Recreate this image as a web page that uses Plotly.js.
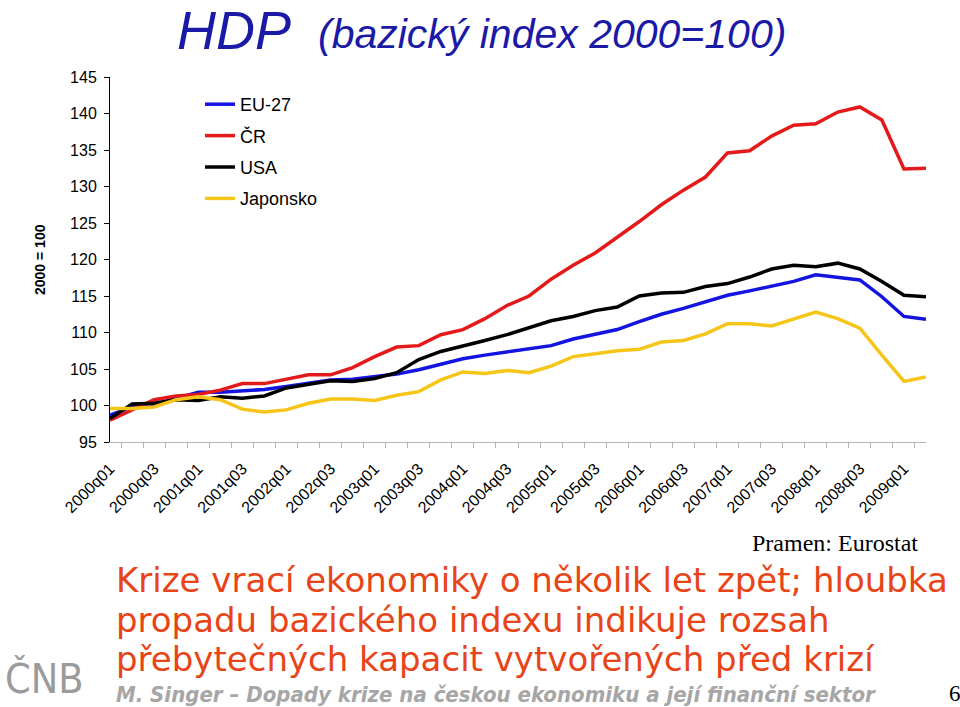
<!DOCTYPE html>
<html>
<head>
<meta charset="utf-8">
<script src="https://cdn.plot.ly/plotly-3.0.1.min.js"></script>
<style>
html,body{margin:0;padding:0;background:#fff;}
#chart{width:960px;height:707px;}
</style>
</head>
<body>
<div id="chart"></div>
<script>
const quarters = ["2000q01","2000q02","2000q03","2000q04","2001q01","2001q02","2001q03","2001q04",
  "2002q01","2002q02","2002q03","2002q04","2003q01","2003q02","2003q03","2003q04",
  "2004q01","2004q02","2004q03","2004q04","2005q01","2005q02","2005q03","2005q04",
  "2006q01","2006q02","2006q03","2006q04","2007q01","2007q02","2007q03","2007q04",
  "2008q01","2008q02","2008q03","2008q04","2009q01","2009q02"];
const tickLabels = ["2000q01","2000q03","2001q01","2001q03","2002q01","2002q03","2003q01","2003q03",
  "2004q01","2004q03","2005q01","2005q03","2006q01","2006q03","2007q01","2007q03","2008q01","2008q03","2009q01"];
const seriesNames = ["EU-27","ČR","USA","Japonsko"];
const eu27 = [98.7,99.8,100.1,101.0,101.8,101.8,102.0,102.2,102.6,103.1,103.5,103.6,103.9,104.3,104.9,105.7,106.4,106.9,107.3,107.7,108.2,109.1,109.8,110.4,111.5,112.5,113.3,114.2,115.1,115.7,116.4,117.0,117.9,117.6,117.2,114.9,112.2,111.8];
const cr = [98.0,99.4,100.8,101.3,101.5,102.1,103.0,103.0,103.6,104.2,104.2,105.2,106.7,108.0,108.2,109.7,110.4,111.9,113.7,115.0,117.3,119.2,120.9,123.0,125.2,127.5,129.5,131.3,134.6,134.9,136.9,138.4,138.6,140.2,140.9,139.1,132.4,132.5];
const usa = [98.2,100.2,100.3,100.8,100.7,101.2,101.0,101.3,102.4,102.9,103.4,103.3,103.7,104.5,106.3,107.4,108.1,108.9,109.7,110.6,111.6,112.2,113.0,113.5,115.0,115.4,115.5,116.3,116.7,117.6,118.7,119.2,119.0,119.5,118.7,117.0,115.1,114.9];
const japonsko = [99.6,99.6,99.8,100.8,101.2,100.8,99.5,99.1,99.4,100.3,100.9,100.9,100.7,101.4,101.9,103.5,104.6,104.4,104.8,104.5,105.4,106.7,107.1,107.5,107.7,108.7,108.9,109.8,111.2,111.2,110.9,111.9,112.8,111.9,110.6,106.9,103.3,103.9];

const values = [eu27, cr, usa, japonsko];
const colors = ["#1414e0","#e41a1a","#000000","#f5c518"];

const traces = values.map((v, k) => ({
  type: "scatter", mode: "lines", x: quarters, y: v, name: seriesNames[k],
  legendgroup: "g" + k,
  line: {color: colors[k], width: 3.5}
}));

// plot area in pixels: x 110..926, y 77..442
const L = 110, R = 926, T = 77, B = 442;
const px = x => (x - L) / (R - L);
const py = y => (B - y) / (B - T);
const ann = (x, y, text, font, extra) => Object.assign({
  xref: "paper", yref: "paper", x: px(x), y: py(y), text: text, showarrow: false,
  xanchor: "left", yanchor: "middle", font: font
}, extra || {});

const titleFont = "Liberation Sans, Arial, sans-serif";
const tahoma = "DejaVu Sans, sans-serif";
const annotations = [
  ann(234, 30, "<i>HDP</i>", {family: titleFont, size: 54, color: "#1a1aa6"}, {xanchor: "center"}),
  ann(552, 34, "<i>(bazický index 2000=100)</i>", {family: titleFont, size: 41, color: "#1a1aa6"}, {xanchor: "center"}),
  ann(40, 260, "<b>2000 = 100</b>", {family: "Liberation Sans, Arial, sans-serif", size: 14, color: "#000"}, {xanchor: "center", textangle: -90}),
  ann(920, 543, "Pramen: Eurostat", {family: "Liberation Serif, Times New Roman, serif", size: 24, color: "#000"}, {xanchor: "right"}),
  ann(114, 580, "Krize vrací ekonomiky o několik let zpět; hloubka", {family: tahoma, size: 34, color: "#e84418"}),
  ann(114, 620, "propadu bazického indexu indikuje rozsah", {family: tahoma, size: 34, color: "#e84418"}),
  ann(114, 659, "přebytečných kapacit vytvořených před krizí", {family: tahoma, size: 34, color: "#e84418"}),
  ann(114, 694, "<b><i>M. Singer – Dopady krize na českou ekonomiku a její finanční sektor</i></b>", {family: "DejaVu Sans Condensed, DejaVu Sans, sans-serif", size: 22, color: "#a6a6a6"}),
  ann(955, 693, "6", {family: "Liberation Serif, Times New Roman, serif", size: 23, color: "#000"}, {xanchor: "center"}),
  ann(44, 679, "ČNB", {family: "DejaVu Sans Condensed, sans-serif", size: 41, color: "#9b9b9b"}, {xanchor: "center"})
];

const layout = {
  width: 960, height: 707,
  margin: {l: L, r: 960 - R, t: T, b: 707 - B},
  paper_bgcolor: "#fff", plot_bgcolor: "#fff",
  showlegend: true,
  legend: {
    x: px(200), y: py(86), xanchor: "left", yanchor: "top",
    font: {family: "Liberation Sans, Arial, sans-serif", size: 18, color: "#000"},
    bgcolor: "rgba(0,0,0,0)", traceorder: "grouped", tracegroupgap: 5
  },
  xaxis: {
    type: "category", tickmode: "array", tickvals: quarters,
    ticktext: quarters.map(q => tickLabels.includes(q) ? q : ""),
    tickson: "boundaries", ticks: "outside", ticklen: 5, tickcolor: "#b4b4b4",
    showline: true, linecolor: "#b4b4b4", linewidth: 1,
    showgrid: false, zeroline: false, tickangle: -45, ticklabelstandoff: 10,
    tickfont: {family: "Liberation Sans, Arial, sans-serif", size: 16, color: "#000"},
    fixedrange: true
  },
  yaxis: {
    range: [95, 145], dtick: 5, tick0: 95, ticks: "outside", ticklen: 5, tickcolor: "#000",
    showline: true, linecolor: "#000", linewidth: 1, ticklabelstandoff: 4,
    showgrid: false, zeroline: false,
    tickfont: {family: "Liberation Sans, Arial, sans-serif", size: 16, color: "#000"},
    fixedrange: true
  },
  annotations: annotations
};

Plotly.newPlot("chart", traces, layout, {displayModeBar: false, staticPlot: true});
</script>
</body>
</html>
